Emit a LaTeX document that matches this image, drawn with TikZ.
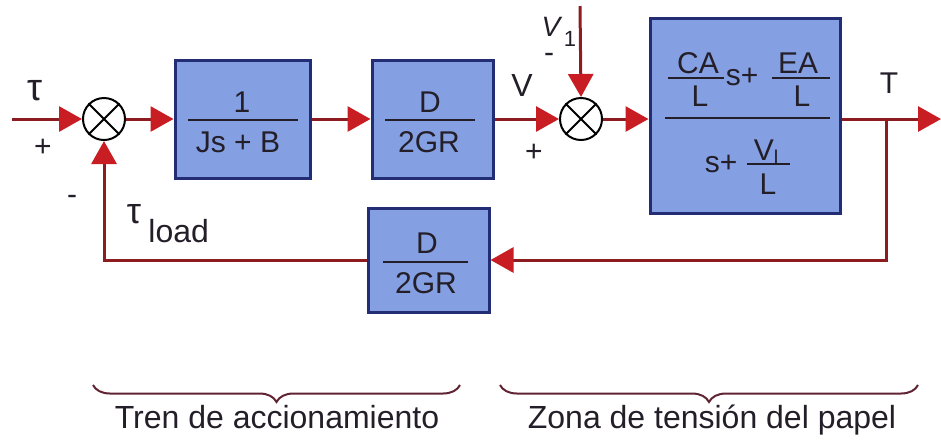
\documentclass[tikz,border=0pt]{standalone}
\usepackage{fontspec}
\setmainfont{Liberation Sans}
\usetikzlibrary{arrows.meta,decorations.pathreplacing,calc}
\definecolor{blockfill}{RGB}{132,160,226}
\definecolor{blockline}{RGB}{35,45,115}
\definecolor{wire}{RGB}{140,28,32}
\definecolor{tipred}{RGB}{200,30,35}
\definecolor{txt}{RGB}{35,30,40}
\definecolor{bracecol}{RGB}{95,35,50}
\begin{document}
\begin{tikzpicture}[x=0.5pt,y=-0.5pt,
  blk/.style={draw=blockline,line width=1.5pt,fill=blockfill,inner sep=0pt},
  sumj/.style={circle,draw=black,line width=1pt,fill=white,minimum size=21pt,inner sep=0pt},
  wire/.style={draw=wire,line width=1.5pt},
  arr/.style={wire,-{Triangle[length=11.5pt,width=12.5pt,color=tipred]}},
  fracline/.style={draw=txt,line width=1.3pt},
  btxt/.style={font=\fontsize{15}{18}\selectfont,text=txt,inner sep=0pt,anchor=base},
  lbl/.style={font=\fontsize{15}{18}\selectfont,text=txt,inner sep=0pt},
  bottxt/.style={font=\fontsize{16}{19}\selectfont,text=txt,inner sep=0pt,anchor=base},
  brc/.style={draw=bracecol,line width=1pt,decorate,decoration={brace,mirror,amplitude=8.5pt}}
]
\useasboundingbox (0,0) rectangle (941,441);

% blocks
\node[blk,minimum width=67.5pt,minimum height=59pt] (b1) at (242.5,119) {};
\node[blk,minimum width=60.5pt,minimum height=59pt] (b2) at (432.5,119) {};
\node[blk,minimum width=95pt,minimum height=97.5pt] (b3) at (745,116) {};
\node[blk,minimum width=60.5pt,minimum height=52pt] (fb) at (428.5,260) {};

% summing junctions
\node[sumj] (s1) at (104,119) {};
\draw[line width=1pt] (s1.north west) -- (s1.south east) (s1.north east) -- (s1.south west);
\node[sumj] (s2) at (581,119) {};
\draw[line width=1pt] (s2.north west) -- (s2.south east) (s2.north east) -- (s2.south west);

% block 1 text
\node[btxt] (n1) at (242,112) {1};
\node[btxt] (d1) at (238,152) {Js + B};
\draw[fracline] (188,120) -- (298,120);
% block 2 text
\node[btxt] (n2) at (430,112) {D};
\node[btxt] (d2) at (429,152) {2GR};
\draw[fracline] (385,120) -- (475,120);
% feedback block text
\node[btxt] (n3) at (427,253) {D};
\node[btxt] (d3) at (426,293) {2GR};
\draw[fracline] (383,262) -- (468,262);

% block 3 text
\node[btxt] (ca) at (698,73) {CA};
\node[btxt] (l1) at (700,106) {L};
\draw[fracline] (668,78) -- (724,78);
\node[btxt] (sp1) at (742,85) {s+};
\node[btxt] (ea) at (798,73) {EA};
\node[btxt] (l2) at (802,106) {L};
\draw[fracline] (772,78) -- (830,78);
\draw[fracline] (665,118) -- (830,118);
\node[btxt] (sp2) at (721,172) {s+};
\node[btxt] (vl) at (766,160) {V\raisebox{-2pt}{\fontsize{10}{11}\selectfont l}};
\draw[fracline] (747,164) -- (790,164);
\node[btxt] (l3) at (768,194) {L};

% connectors
\coordinate (in) at (12,119);
\coordinate (v1top) at (580,6);
\coordinate (br) at (886,119);
\coordinate (out) at (941,119);
\draw[arr] (in) -- (s1.west);
\draw[arr] (s1.east) -- (s1.east -| b1.west);
\draw[arr] (b1.east) -- (b1.east -| b2.west);
\draw[arr] (b2.east) -- (b2.east -| s2.west);
\draw[arr] (v1top) -- (s2.north);
\draw[arr] (s2.east) -- (s2.east -| b3.west);
\draw[arr] (s2.east -| b3.east) -- (out);
\draw[arr] (br) |- (fb.east);
\draw[arr] (fb.west) -| (s1.south);

% labels
\node[lbl,font=\fontsize{19}{22}\selectfont] (tau) at (35,91) {τ};
\node[lbl] (p1) at (43,148) {+};
\node[lbl] (m1) at (72,200) {-};
\node[lbl,font=\fontsize{18}{21}\selectfont] (taul) at (134,214) {τ};
\node[lbl,font=\fontsize{16}{19}\selectfont,anchor=base west] (load) at (148,242) {load};
\node[lbl,font=\fontsize{16}{19}\selectfont] (vlab) at (522,85) {V};
\node[lbl] (p2) at (534,153) {+};
\node[lbl,font=\fontsize{14}{17}\selectfont\itshape,anchor=base] (v1) at (551,36) {V};
\node[lbl,font=\fontsize{11}{13}\selectfont,anchor=base] (v1s) at (570,46) {1};
\node[lbl] (m2) at (549,58) {-};
\node[lbl] (tlab) at (889,83) {T};

% braces
\coordinate (ba) at (93,385);
\coordinate (bb) at (460,385);
\coordinate (bc) at (500,385);
\coordinate (bd) at (918,385);
\draw[brc] (ba) -- (bb);
\draw[brc] (bc) -- (bd);
\node[bottxt] (t1) at (277,428) {Tren de accionamiento};
\node[bottxt] (t2) at (712,428) {Zona de tensión del papel};
\end{tikzpicture}
\end{document}
